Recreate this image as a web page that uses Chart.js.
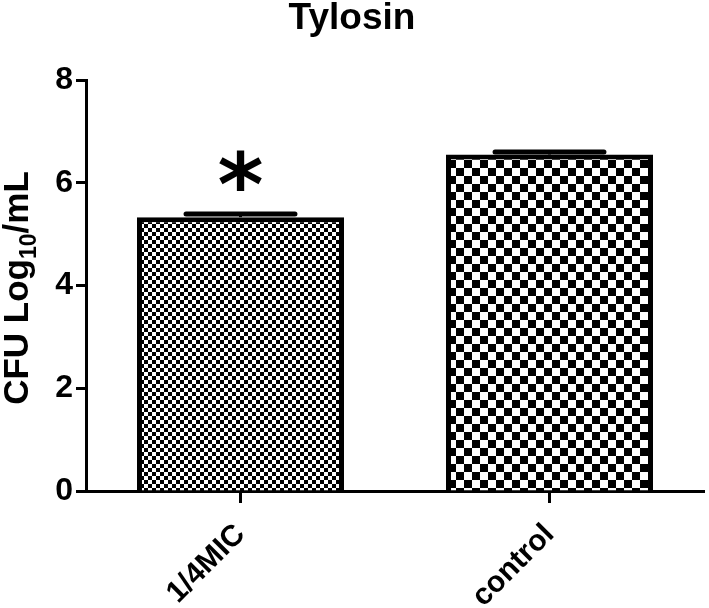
<!DOCTYPE html>
<html>
<head>
<meta charset="utf-8">
<script src="https://cdn.jsdelivr.net/npm/chart.js@4/dist/chart.umd.min.js"></script>
<style>
  html, body { margin: 0; padding: 0; background: #fff; }
  #wrap { width: 709px; height: 608px; }
</style>
</head>
<body>
<div id="wrap"><canvas id="myChart"></canvas></div>
<script>
// data
const categories = ['1/4MIC', 'control'];
const means = [5.33, 6.55];
const errors = [0.06, 0.05];
const marks = ['*', ''];
const yTicks = [0, 2, 4, 6, 8];

// checkerboard fills
function checker(size) {
    const c = document.createElement('canvas');
    c.width = size * 2;
    c.height = size * 2;
    const g = c.getContext('2d');
    g.fillStyle = '#fff';
    g.fillRect(0, 0, size * 2, size * 2);
    g.fillStyle = '#000';
    g.fillRect(0, 0, size, size);
    g.fillRect(size, size, size, size);
    return g.createPattern(c, 'repeat');
}

Chart.defaults.font.family = 'Arial, "Liberation Sans", sans-serif';
Chart.defaults.font.weight = 'bold';
Chart.defaults.color = '#000';

// error bars + significance star
const errorBars = {
    id: 'errorBars',
    afterDatasetsDraw(chart) {
        const ctx = chart.ctx;
        const y = chart.scales.y;
        const meta = chart.getDatasetMeta(0);
        meta.data.forEach((bar, i) => {
            const top = y.getPixelForValue(means[i] + errors[i]);
            const half = bar.width * 0.263;
            ctx.save();
            ctx.strokeStyle = '#000';
            ctx.lineWidth = 3;
            ctx.beginPath();
            ctx.moveTo(bar.x, bar.y);
            ctx.lineTo(bar.x, top);
            ctx.stroke();
            ctx.lineWidth = 5;
            ctx.lineCap = 'round';
            ctx.beginPath();
            ctx.moveTo(bar.x - half, top);
            ctx.lineTo(bar.x + half, top);
            ctx.stroke();
            if (marks[i]) {
                ctx.font = 'bold 88px "DejaVu Sans", sans-serif';
                ctx.fillStyle = '#000';
                ctx.textAlign = 'center';
                ctx.textBaseline = 'alphabetic';
                const m = ctx.measureText(marks[i]);
                const cy = top - 44;
                ctx.fillText(marks[i], bar.x, cy + (m.actualBoundingBoxAscent - m.actualBoundingBoxDescent) / 2);
            }
            ctx.restore();
        });
    }
};

// y axis title with subscript
const yTitle = {
    id: 'yTitle',
    afterDraw(chart) {
        const ctx = chart.ctx;
        const parts = [['CFU Log', 35, 0], ['10', 23, 8], ['/mL', 35, 0]];
        ctx.save();
        let total = 0;
        parts.forEach(p => {
            ctx.font = 'bold ' + p[1] + 'px Arial, "Liberation Sans", sans-serif';
            total += ctx.measureText(p[0]).width;
        });
        ctx.translate(28, 288);
        ctx.rotate(-Math.PI / 2);
        ctx.fillStyle = '#000';
        ctx.textBaseline = 'alphabetic';
        ctx.textAlign = 'left';
        let x = -total / 2;
        parts.forEach(p => {
            ctx.font = 'bold ' + p[1] + 'px Arial, "Liberation Sans", sans-serif';
            ctx.fillText(p[0], x, p[2]);
            x += ctx.measureText(p[0]).width;
        });
        ctx.restore();
    }
};

var ctx = document.getElementById('myChart').getContext('2d');
var myChart = new Chart(ctx, {
    type: 'bar',
    data: {
        labels: categories,
        datasets: [{
            data: means,
            backgroundColor: [checker(4), checker(8)],
            borderColor: '#000',
            borderWidth: 5,
            borderSkipped: 'bottom',
            barPercentage: 1,
            categoryPercentage: 0.67
        }]
    },
    options: {
        responsive: true,
        maintainAspectRatio: false,
        animation: false,
        layout: { padding: { left: 0, right: 5, top: 0, bottom: 0 } },
        plugins: {
            legend: { display: false },
            tooltip: { enabled: false },
            title: {
                display: true,
                text: 'Tylosin',
                font: { size: 37, weight: 'bold', lineHeight: 1 },
                color: '#000',
                padding: { top: 0, bottom: 43 }
            }
        },
        scales: {
            y: {
                min: 0,
                max: 8,
                afterBuildTicks(scale) { scale.ticks = yTicks.map(v => ({ value: v })); },
                afterFit(scale) { scale.width = 86; },
                ticks: { font: { size: 32, weight: 'bold' }, padding: 3, color: '#000' },
                grid: { drawOnChartArea: false, drawTicks: true, tickLength: 10, tickWidth: 3, tickColor: '#000' },
                border: { color: '#000', width: 3 }
            },
            x: {
                afterFit(scale) { scale.height = 117; },
                ticks: { font: { size: 30, weight: 'bold' }, maxRotation: 45, minRotation: 45, padding: 14, color: '#000' },
                grid: { offset: false, drawOnChartArea: false, drawTicks: true, tickLength: 12, tickWidth: 3, tickColor: '#000' },
                border: { color: '#000', width: 3 }
            }
        }
    },
    plugins: [errorBars, yTitle]
});
</script>
</body>
</html>
